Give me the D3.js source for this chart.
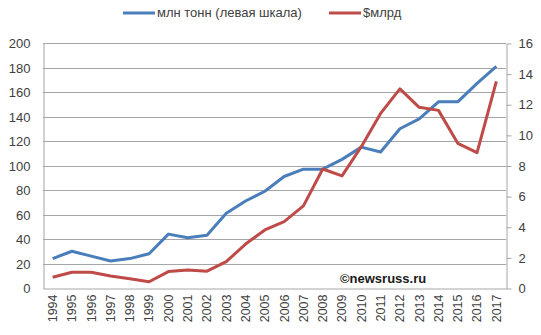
<!DOCTYPE html>
<html>
<head>
<meta charset="utf-8">
<script src="https://cdn.jsdelivr.net/npm/d3@7"></script>
<style>
  body { margin: 0; background: #fff; }
  text { font-family: "Liberation Sans", Arial, sans-serif; fill: #404040; }
</style>
</head>
<body>
<div id="chart"></div>
<script>
var width = 541, height = 335;

var years = ["1994","1995","1996","1997","1998","1999","2000","2001","2002","2003","2004","2005",
             "2006","2007","2008","2009","2010","2011","2012","2013","2014","2015","2016","2017"];
// млн тонн (left axis)
var tonnes = [24, 30, 26, 22, 24, 28, 44, 41, 43, 61, 71, 79,
              91, 97, 97, 105, 115, 111, 130, 138, 152, 152, 167, 181];
// $ млрд (right axis)
var usd = [0.7, 1.03, 1.03, 0.78, 0.61, 0.41, 1.07, 1.18, 1.1, 1.72, 2.87, 3.79,
           4.33, 5.36, 7.77, 7.32, 9.23, 11.4, 13.0, 11.8, 11.6, 9.45, 8.84, 13.5];
var leftTicks = [0, 20, 40, 60, 80, 100, 120, 140, 160, 180, 200];
var rightTicks = [0, 2, 4, 6, 8, 10, 12, 14, 16];

var pLeft = 43, pRight = 506, pTop = 43, pBottom = 288;

var x = d3.scaleBand().domain(years).range([pLeft, pRight]);
var yL = d3.scaleLinear().domain([0, 200]).range([pBottom, pTop]);
var yR = d3.scaleLinear().domain([0, 16]).range([pBottom, pTop]);

var svg = d3.select("#chart").append("svg")
    .attr("width", width)
    .attr("height", height);

// gridlines
svg.append("g")
   .selectAll("line")
   .data(leftTicks.slice(1))
   .enter().append("line")
   .attr("x1", pLeft).attr("x2", pRight)
   .attr("y1", d => Math.round(yL(d)) + 0.5)
   .attr("y2", d => Math.round(yL(d)) + 0.5)
   .style("stroke", "#a6a6a6");

// left axis
var gL = svg.append("g").attr("transform", "translate(" + (pLeft + 0.5) + ",0.5)")
   .call(d3.axisLeft(yL).tickValues(leftTicks).tickSize(0).tickPadding(13));
gL.select(".domain").attr("stroke", "#a6a6a6");
gL.selectAll("text").style("font-size", "13px").style("fill", "#404040");

// right axis
var gR = svg.append("g").attr("transform", "translate(" + (pRight + 0.5) + ",0.5)")
   .call(d3.axisRight(yR).tickValues(rightTicks).tickSize(5).tickPadding(7).tickSizeOuter(0));
gR.select(".domain").attr("stroke", "#a6a6a6");
gR.selectAll("line").attr("stroke", "#a6a6a6");
gR.selectAll("text").style("font-size", "13px").style("fill", "#404040");

// bottom axis
var gB = svg.append("g").attr("transform", "translate(0," + (pBottom + 0.5) + ")")
   .call(d3.axisBottom(x).tickSize(0).tickSizeOuter(0));
gB.select(".domain").attr("stroke", "#a6a6a6");
gB.selectAll("text")
   .style("font-size", "12.5px").style("fill", "#404040")
   .attr("text-anchor", "end")
   .attr("dy", "0.35em")
   .attr("transform", "translate(0,6) rotate(-90)")
   .attr("x", 0).attr("y", 0);

// lines
var lineL = d3.line().x((d, i) => x(years[i]) + x.bandwidth() / 2).y(d => yL(d));
var lineR = d3.line().x((d, i) => x(years[i]) + x.bandwidth() / 2).y(d => yR(d));

svg.append("path").datum(tonnes).attr("d", lineL)
   .style("fill", "none").style("stroke", "#4a7ebb").style("stroke-width", 3)
   .style("stroke-linejoin", "round");
svg.append("path").datum(usd).attr("d", lineR)
   .style("fill", "none").style("stroke", "#be4b48").style("stroke-width", 3)
   .style("stroke-linejoin", "round");

// legend
svg.append("line").attr("x1", 123).attr("x2", 155).attr("y1", 13).attr("y2", 13)
   .style("stroke", "#4a7ebb").style("stroke-width", 3);
svg.append("text").attr("x", 157).attr("y", 17).style("font-size", "13px")
   .text("млн тонн (левая шкала)");
svg.append("line").attr("x1", 329).attr("x2", 361).attr("y1", 13).attr("y2", 13)
   .style("stroke", "#be4b48").style("stroke-width", 3);
svg.append("text").attr("x", 363).attr("y", 17).style("font-size", "13px")
   .text("$млрд");

// watermark
svg.append("text").attr("x", 340).attr("y", 283)
   .style("font-size", "13px").style("font-weight", "bold").style("fill", "#1a1a1a")
   .text("©newsruss.ru");
</script>
</body>
</html>
